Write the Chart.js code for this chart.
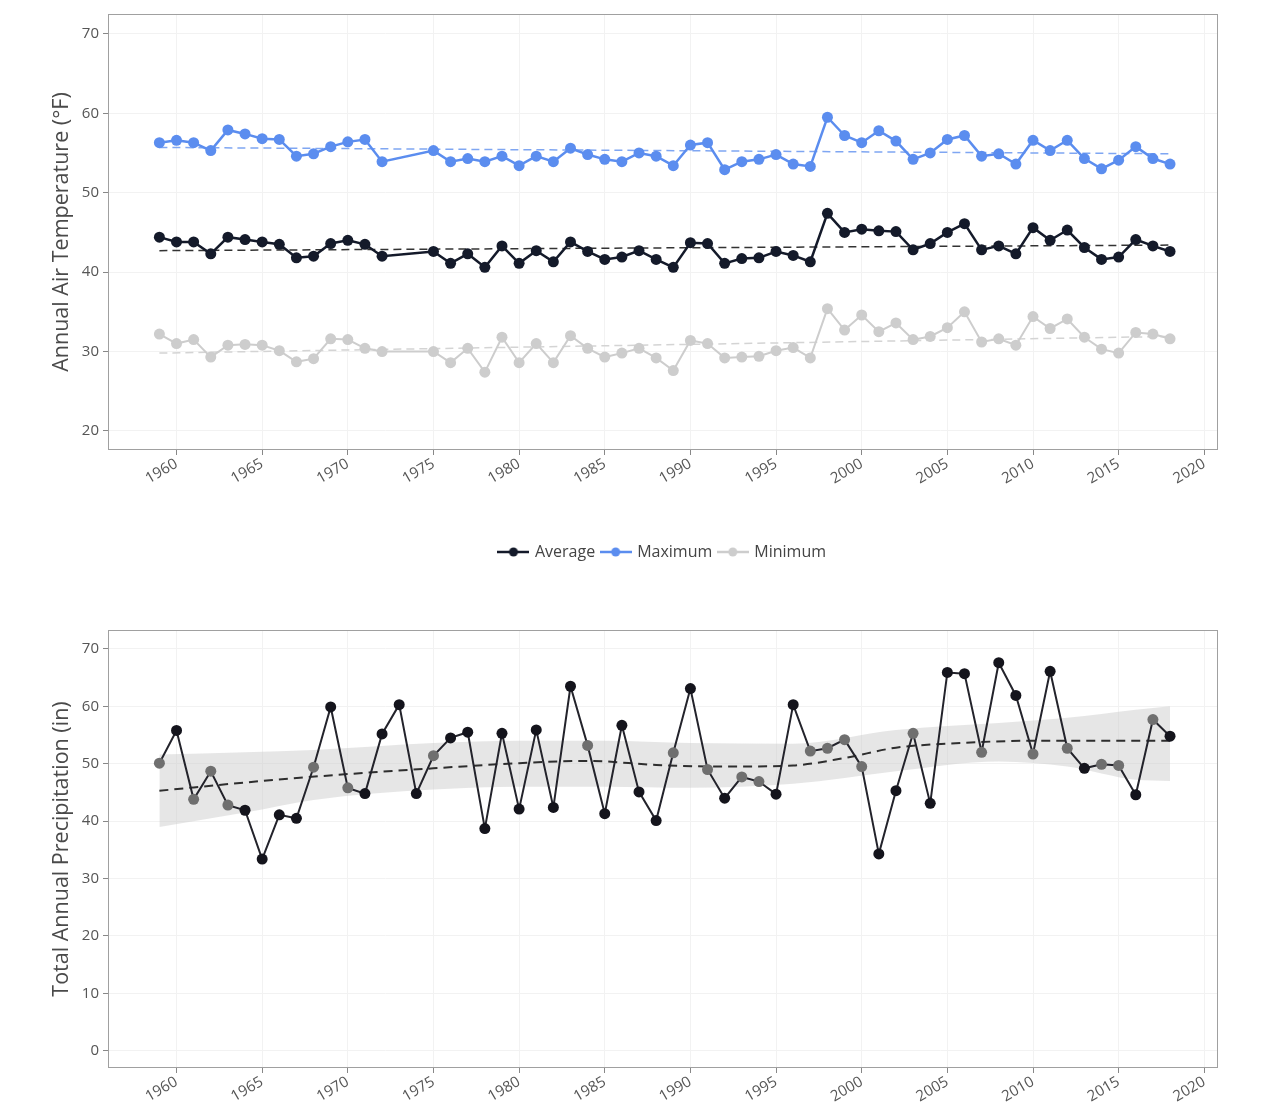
<!DOCTYPE html>
<html>
<head>
<meta charset="utf-8">
<script src="https://cdn.jsdelivr.net/npm/chart.js@4.4.1/dist/chart.umd.min.js"></script>
<style>
body { margin: 0; background: #fff; width: 1276px; height: 1119px; position: relative; overflow: hidden; }
#top { position: absolute; left: 0; top: 0; width: 1276px; height: 570px; }
#bottom { position: absolute; left: 0; top: 610px; width: 1276px; height: 509px; }
</style>
</head>
<body>
<div id="top"><canvas id="tempChart"></canvas></div>
<div id="bottom"><canvas id="precipChart"></canvas></div>
<script>
const years = [1959, 1960, 1961, 1962, 1963, 1964, 1965, 1966, 1967, 1968, 1969, 1970, 1971, 1972, 1973, 1974,
  1975, 1976, 1977, 1978, 1979, 1980, 1981, 1982, 1983, 1984, 1985, 1986, 1987, 1988, 1989, 1990, 1991, 1992,
  1993, 1994, 1995, 1996, 1997, 1998, 1999, 2000, 2001, 2002, 2003, 2004, 2005, 2006, 2007, 2008, 2009, 2010,
  2011, 2012, 2013, 2014, 2015, 2016, 2017, 2018];
const yearTicks = [1960, 1965, 1970, 1975, 1980, 1985, 1990, 1995, 2000, 2005, 2010, 2015, 2020];
const tempTicks = [20, 30, 40, 50, 60, 70];
const precipTicks = [0, 10, 20, 30, 40, 50, 60, 70];

// annual air temperature (°F), no data for 1973-1974
const avgTemp = [44.4, 43.8, 43.8, 42.3, 44.4, 44.1, 43.8, 43.5, 41.8, 42.0, 43.6, 44.0, 43.5, 42.0, null, null,
  42.6, 41.1, 42.3, 40.6, 43.3, 41.1, 42.7, 41.3, 43.8, 42.6, 41.6, 41.9, 42.7, 41.6, 40.6, 43.7, 43.6, 41.1,
  41.7, 41.8, 42.6, 42.1, 41.3, 47.4, 45.0, 45.4, 45.2, 45.1, 42.8, 43.6, 45.0, 46.1, 42.8, 43.3, 42.3, 45.6,
  44.0, 45.3, 43.1, 41.6, 41.9, 44.1, 43.3, 42.6];
const maxTemp = [56.3, 56.6, 56.3, 55.3, 57.9, 57.4, 56.8, 56.7, 54.6, 54.9, 55.8, 56.4, 56.7, 53.9, null, null,
  55.3, 53.9, 54.3, 53.9, 54.6, 53.4, 54.6, 53.9, 55.6, 54.8, 54.2, 53.9, 55.0, 54.6, 53.4, 56.0, 56.3, 52.9,
  53.9, 54.2, 54.8, 53.6, 53.3, 59.5, 57.2, 56.3, 57.8, 56.5, 54.2, 55.0, 56.7, 57.2, 54.6, 54.9, 53.6, 56.6,
  55.3, 56.6, 54.3, 53.0, 54.1, 55.8, 54.3, 53.6];
const minTemp = [32.2, 31.0, 31.5, 29.3, 30.8, 30.9, 30.8, 30.1, 28.7, 29.1, 31.6, 31.5, 30.4, 30.0, null, null,
  30.0, 28.6, 30.4, 27.4, 31.8, 28.6, 31.0, 28.6, 32.0, 30.4, 29.3, 29.8, 30.4, 29.2, 27.6, 31.4, 31.0, 29.2,
  29.3, 29.4, 30.1, 30.5, 29.2, 35.4, 32.7, 34.6, 32.5, 33.6, 31.5, 31.9, 33.0, 35.0, 31.2, 31.6, 30.8, 34.4,
  32.9, 34.1, 31.8, 30.3, 29.8, 32.4, 32.2, 31.6];

// linear trend end points (1959, 2018)
const trendYears = [1959, 2018];
const avgTrend = [42.7, 43.4];
const maxTrend = [55.7, 54.9];
const minTrend = [29.8, 31.9];

// total annual precipitation (in)
const precip = [50.1, 55.8, 43.8, 48.7, 42.8, 41.9, 33.4, 41.1, 40.5, 49.4, 59.9, 45.8, 44.8, 55.2, 60.3, 44.8,
  51.4, 54.5, 55.5, 38.7, 55.3, 42.1, 55.9, 42.4, 63.5, 53.2, 41.3, 56.7, 45.1, 40.1, 51.9, 63.1, 49.0, 44.0,
  47.7, 46.9, 44.7, 60.3, 52.2, 52.7, 54.2, 49.5, 34.3, 45.3, 55.3, 43.1, 65.9, 65.7, 52.0, 67.6, 61.9, 51.7,
  66.1, 52.7, 49.2, 49.9, 49.7, 44.6, 57.7, 54.8];
// points that sit inside the smoothing band
const precipInBand = [1, 0, 1, 1, 1, 0, 0, 0, 0, 1, 0, 1, 0, 0, 0, 0,
  1, 0, 0, 0, 0, 0, 0, 0, 0, 1, 0, 0, 0, 0, 1, 0, 1, 0,
  1, 1, 0, 0, 1, 1, 1, 1, 0, 0, 1, 0, 0, 0, 1, 0, 0, 1,
  0, 1, 0, 1, 1, 0, 1, 0];

// smoothed trend and its band
const smoothYears = [1959, 1965, 1970, 1975, 1980, 1984, 1988, 1992, 1996, 1999, 2002, 2005, 2010, 2018];
const smoothTrend = [45.3, 47.0, 48.2, 49.2, 50.1, 50.5, 49.8, 49.5, 49.7, 51.0, 52.8, 53.5, 54.0, 54.0];
const bandYears = [1959, 1964, 1968, 1975, 1980, 1985, 1990, 1996, 2002, 2008, 2012, 2016, 2018];
const bandLow = [39.0, 41.5, 43.7, 45.5, 46.0, 46.0, 45.8, 46.5, 48.7, 50.4, 49.5, 47.2, 47.0];
const bandHigh = [51.6, 52.0, 52.4, 53.6, 54.0, 54.0, 53.6, 53.5, 55.9, 57.1, 58.0, 59.4, 60.0];

Chart.defaults.font.family = "'Open Sans', 'Noto Sans', sans-serif";
Chart.defaults.color = '#555';

function pairs(xs, ys) {
  return xs.map((x, i) => ({x: x, y: ys[i]}));
}

function fixedTicks(values) {
  return function(scale) {
    scale.ticks = values.map(v => ({value: v}));
  };
}

const framePlugin = {
  id: 'frame',
  beforeDatasetsDraw(chart) {
    const a = chart.chartArea, ctx = chart.ctx;
    ctx.save();
    ctx.strokeStyle = '#a0a0a0';
    ctx.lineWidth = 1;
    ctx.strokeRect(a.left + 0.5, a.top + 0.5, a.width - 1, a.height - 1);
    ctx.restore();
  }
};

function legendIcon(color) {
  const c = document.createElement('canvas');
  c.width = 32; c.height = 12;
  const g = c.getContext('2d');
  g.strokeStyle = color;
  g.lineWidth = 2.5;
  g.beginPath(); g.moveTo(0, 6); g.lineTo(32, 6); g.stroke();
  g.fillStyle = color;
  g.beginPath(); g.arc(16, 6, 4.5, 0, Math.PI * 2); g.fill();
  return c;
}

function xScale(height) {
  return {
    type: 'linear',
    min: 1956.0,
    max: 2020.8,
    afterBuildTicks: fixedTicks(yearTicks),
    afterFit: function(scale) { scale.height = height; },
    ticks: {
      autoSkip: false,
      maxRotation: 30,
      minRotation: 30,
      padding: 0,
      color: '#555',
      font: {size: 15},
      callback: v => String(v)
    },
    grid: {color: '#f2f2f2', tickColor: '#888', tickLength: 5},
    border: {display: false}
  };
}

function yScale(min, max, values, title) {
  return {
    min: min,
    max: max,
    afterBuildTicks: fixedTicks(values),
    afterFit: function(scale) { scale.width = 108; },
    ticks: {padding: 4, color: '#555', font: {size: 15}},
    grid: {color: '#f2f2f2', tickColor: '#888', tickLength: 5},
    border: {display: false},
    title: {display: true, text: title, color: '#4a4a4a', font: {size: 21.5}, padding: {top: 49, bottom: 2}}
  };
}

const blue = '#5b8def';
const navy = '#141a2a';
const grey = '#cdcdcd';
const icons = [legendIcon(navy), legendIcon(blue), legendIcon(grey)];

new Chart('tempChart', {
  type: 'line',
  data: {
    datasets: [
      {label: 'Average', data: pairs(years, avgTemp), borderColor: navy, backgroundColor: navy, borderWidth: 2.5,
        pointRadius: 5.5, pointBorderWidth: 0, spanGaps: true, order: 1},
      {label: 'Maximum', data: pairs(years, maxTemp), borderColor: blue, backgroundColor: blue, borderWidth: 2.5,
        pointRadius: 5.5, pointBorderWidth: 0, spanGaps: true, order: 1},
      {label: 'Minimum', data: pairs(years, minTemp), borderColor: grey, backgroundColor: grey, borderWidth: 2,
        pointRadius: 5.5, pointBorderWidth: 0, spanGaps: true, order: 1},
      {label: '', data: pairs(trendYears, avgTrend), borderColor: '#333', borderWidth: 1.5, borderDash: [8, 5],
        pointRadius: 0, order: 2},
      {label: '', data: pairs(trendYears, maxTrend), borderColor: '#7fa6f2', borderWidth: 1.5, borderDash: [8, 5],
        pointRadius: 0, order: 2},
      {label: '', data: pairs(trendYears, minTrend), borderColor: '#d4d4d4', borderWidth: 1.5, borderDash: [8, 5],
        pointRadius: 0, order: 2}
    ]
  },
  options: {
    animation: false,
    responsive: true,
    maintainAspectRatio: false,
    devicePixelRatio: 1,
    layout: {padding: {top: 14, right: 58, bottom: 0, left: 0}},
    scales: {
      x: xScale(87),
      y: yScale(17.6, 72.5, tempTicks, 'Annual Air Temperature (°F)')
    },
    plugins: {
      tooltip: {enabled: false},
      legend: {
        position: 'bottom',
        fullSize: false,
        labels: {
          usePointStyle: true,
          pointStyleWidth: 27,
          boxHeight: 12,
          padding: 7,
          color: '#444',
          font: {size: 16},
          generateLabels: function(chart) {
            return chart.data.datasets.slice(0, 3).map((ds, i) => ({
              text: ds.label, pointStyle: icons[i], fillStyle: ds.borderColor, strokeStyle: ds.borderColor,
              lineWidth: 0, hidden: false, datasetIndex: i, fontColor: '#444'
            }));
          }
        }
      }
    }
  },
  plugins: [framePlugin]
});

new Chart('precipChart', {
  type: 'line',
  data: {
    datasets: [
      {label: 'Precipitation', data: pairs(years, precip), borderColor: '#23232b', borderWidth: 2,
        pointRadius: 5.5, pointBorderWidth: 0,
        pointBackgroundColor: precipInBand.map(b => b ? '#6f6f6f' : '#14141c'), order: 1},
      {label: 'Trend', data: pairs(smoothYears, smoothTrend), borderColor: '#2e2e2e', borderWidth: 2,
        borderDash: [9, 6], pointRadius: 0, cubicInterpolationMode: 'monotone', order: 2},
      {label: 'Low', data: pairs(bandYears, bandLow), borderWidth: 0, borderColor: 'rgba(0,0,0,0)',
        pointRadius: 0, cubicInterpolationMode: 'monotone', fill: false, order: 3},
      {label: 'High', data: pairs(bandYears, bandHigh), borderWidth: 0, borderColor: 'rgba(0,0,0,0)',
        pointRadius: 0, cubicInterpolationMode: 'monotone', fill: '-1',
        backgroundColor: 'rgba(200,200,200,0.45)', order: 3}
    ]
  },
  options: {
    animation: false,
    responsive: true,
    maintainAspectRatio: false,
    devicePixelRatio: 1,
    layout: {padding: {top: 20, right: 58, bottom: 0, left: 0}},
    scales: {
      x: xScale(51),
      y: yScale(-3.0, 73.3, precipTicks, 'Total Annual Precipitation (in)')
    },
    plugins: {
      tooltip: {enabled: false},
      legend: {display: false}
    }
  },
  plugins: [framePlugin]
});
</script>
</body>
</html>
